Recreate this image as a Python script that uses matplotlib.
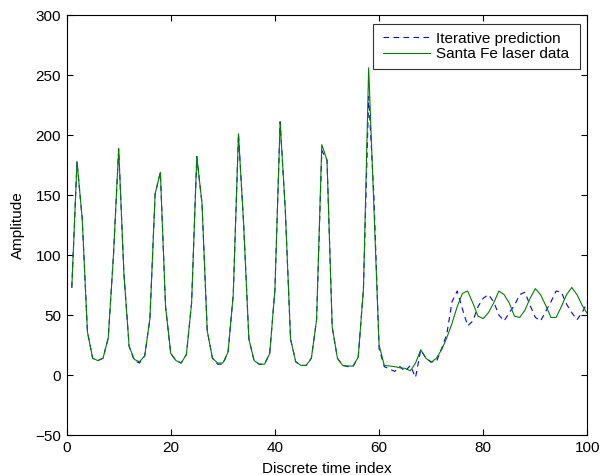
import numpy as np
import matplotlib
matplotlib.use('Agg')
import matplotlib.pyplot as plt
from matplotlib.lines import Line2D
from matplotlib.legend_handler import HandlerLine2D

plt.rcParams['font.family'] = ['Liberation Sans', 'DejaVu Sans']

# time index 1..100
t = np.arange(1, 101)

# Santa Fe laser data
laser = [73, 178, 130, 36, 14, 12, 14, 31, 100, 189,
         85, 24, 13, 11, 16, 47, 151, 169, 57, 18,
         12, 10, 17, 60, 182, 143, 37, 14, 10, 10,
         19, 67, 201, 125, 30, 12, 9, 9, 18, 71,
         211, 137, 30, 11, 8, 8, 14, 46, 192, 179,
         40, 14, 8, 7.5, 7.5, 15, 72, 256, 140, 25,
         8, 7.5, 7, 6, 5.5, 3.5, 10, 21, 14, 10.5,
         14, 21, 31, 43, 57, 68, 70, 60, 49, 47,
         52, 60, 70, 67, 60, 49, 48, 54, 64, 72,
         67, 58, 48, 48, 57, 67, 73, 67, 58, 51]

# iterative prediction
pred = [73, 178, 130, 36, 14, 12, 14, 31, 100, 188,
        85, 24, 12, 10, 16, 47, 151, 169, 57, 18,
        12, 10, 17, 60, 182, 143, 37, 14, 9, 9,
        19, 67, 201, 125, 30, 12, 9, 9, 18, 71,
        211, 137, 30, 11, 8, 8, 14, 46, 187, 179,
        40, 14, 8, 7, 7, 15, 72, 232, 150, 22,
        7, 5, 3, 7, 3, 8, -2, 21, 14, 11,
        11, 22, 34, 61, 70, 55, 41, 45, 57, 64,
        67, 61, 50, 45, 52, 58, 67, 69, 58, 48,
        45, 53, 61, 70, 69, 59, 52, 46, 52, 61]

fs = 11

fig = plt.figure(figsize=(6, 4.75), dpi=100)
ax = fig.add_axes([0.111, 0.0842, 0.868, 0.8842])

ax.plot(t, pred, color='b', linestyle='--', dashes=(5, 4), lw=0.8, label='Iterative prediction')
ax.plot(t, laser, color=(0, 0.5, 0), lw=0.8, label='Santa Fe laser data')

ax.set_xlim(0, 100)
ax.set_ylim(-50, 300)
ax.set_xticks(np.arange(0, 101, 20))
ax.set_yticks(np.arange(-50, 301, 50))
ax.tick_params(direction='in', top=True, right=True, labelsize=fs, length=4.5, pad=4)
ax.set_xlabel('Discrete time index', fontsize=fs, labelpad=5)
ax.set_ylabel('Amplitude', fontsize=fs, labelpad=7)

# legend box stretched to the width seen in the reference
leg = ax.legend(loc='upper left', bbox_to_anchor=(0.5877, 0.5, 0.3979, 0.4786),
                mode='expand', borderaxespad=0,
                fancybox=False, edgecolor='k', fontsize=fs, handlelength=3.25,
                borderpad=0.5, labelspacing=0.1, handletextpad=0.4,
                handler_map={Line2D: HandlerLine2D(xpad=0.15)})
leg.get_frame().set_linewidth(0.8)

fig.savefig('out.png', dpi=100)
